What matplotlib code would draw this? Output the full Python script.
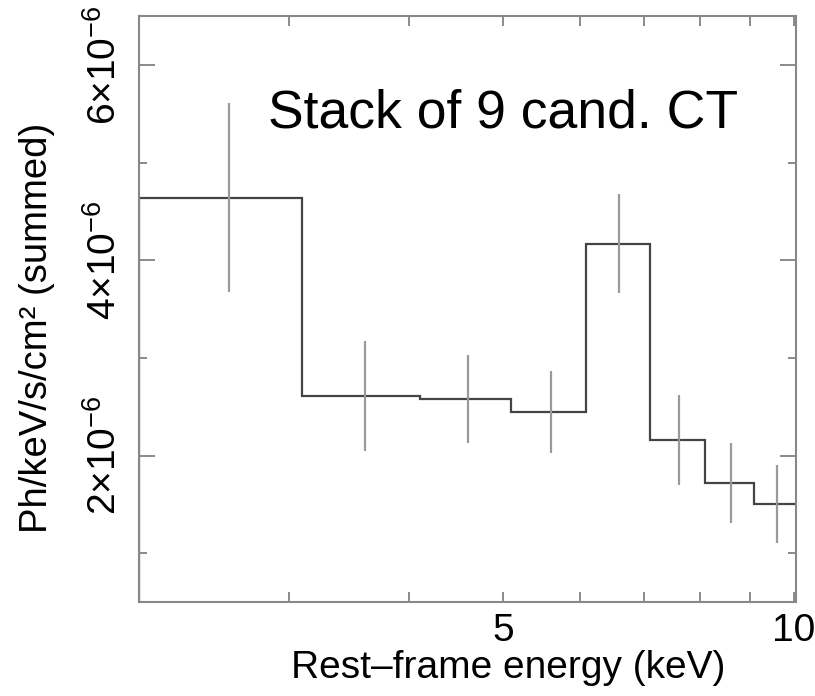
import numpy as np
import matplotlib
matplotlib.use("Agg")
import matplotlib.pyplot as plt

plt.rcParams['font.family'] = ['Liberation Sans', 'DejaVu Sans']
plt.rcParams['mathtext.fontset'] = 'custom'
plt.rcParams['mathtext.rm'] = 'Liberation Sans'
plt.rcParams['mathtext.it'] = 'Liberation Sans:italic'
plt.rcParams['mathtext.bf'] = 'Liberation Sans:bold'

# rest-frame energy bins (keV) and stacked flux
bin_edges = [2.1, 3.1, 4.1, 5.1, 6.1, 7.1, 8.1, 9.1, 10.1]
bin_centers = [2.6, 3.6, 4.6, 5.6, 6.6, 7.6, 8.6, 9.6]
flux = [4.64e-6, 2.61e-6, 2.58e-6, 2.45e-6, 4.17e-6, 2.16e-6, 1.72e-6, 1.50e-6]
flux_err = [0.97e-6, 0.56e-6, 0.45e-6, 0.42e-6, 0.51e-6, 0.46e-6, 0.41e-6, 0.40e-6]

ytick_vals = [2e-6, 4e-6, 6e-6]
ytick_labels = [r'$2{\times}10^{-6}$', r'$4{\times}10^{-6}$', r'$6{\times}10^{-6}$']
yminor_vals = [1e-6, 3e-6, 5e-6]
xtick_vals = [5, 10]
xtick_labels = ['5', '10']
xminor_vals = [3, 4, 6, 7, 8, 9]

fig = plt.figure(figsize=(8.15, 6.96), dpi=100)
ax = fig.add_axes([0.1706, 0.135, 0.806, 0.842])

ax.stairs(flux, bin_edges, color='#444444', lw=1.6)
ax.errorbar(bin_centers, flux, yerr=flux_err, fmt='none', ecolor='#9a9a9a',
            elinewidth=1.6, capsize=0)

ax.set_xscale('log')
ax.set_xlim(2.1, 10.05)
ax.set_ylim(0.5e-6, 6.5e-6)

ax.set_xticks(xtick_vals)
ax.set_xticklabels(xtick_labels)
ax.set_xticks(xminor_vals, minor=True)
ax.xaxis.set_minor_formatter(plt.NullFormatter())
ax.set_yticks(ytick_vals)
ax.set_yticklabels(ytick_labels, rotation=90, va='center')
ax.set_yticks(yminor_vals, minor=True)

ax.tick_params(axis='both', which='both', direction='in', top=True, right=True,
               color='#777777', width=1.2, labelsize=28)
ax.tick_params(axis='x', which='both', length=7, pad=8)
ax.tick_params(axis='y', which='major', length=11.5, pad=11)
ax.tick_params(axis='y', which='minor', length=6)

for s in ax.spines.values():
    s.set_color('#888888')
    s.set_linewidth(1.5)

ax.set_xlabel('Rest\u2013frame energy (keV)', fontsize=28)
ax.xaxis.set_label_coords(0.562, -0.082)
ax.set_ylabel('Ph/keV/s/cm\u00b2 (summed)', fontsize=27.5)
ax.yaxis.set_label_coords(-0.128, 0.468)

ax.text(0.196, 0.809, 'Stack of 9 cand. CT', transform=ax.transAxes,
        fontsize=38.5, ha='left', va='baseline')

fig.savefig('out.png', dpi=100)
